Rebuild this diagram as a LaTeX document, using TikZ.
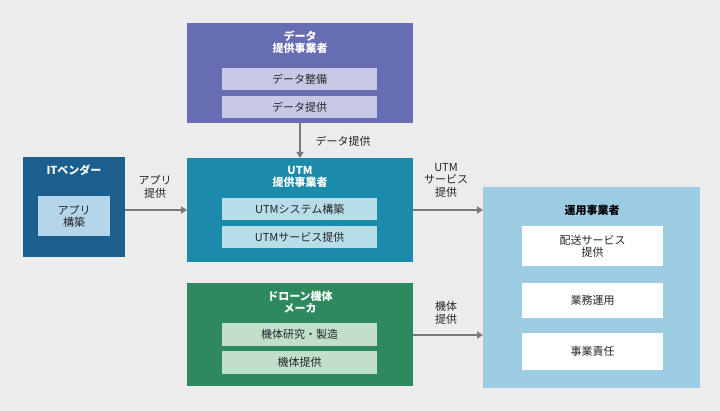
\documentclass[tikz,border=0pt]{standalone}
\usepackage{fontspec}
\setmainfont{Noto Sans CJK JP}
\usetikzlibrary{arrows.meta}
\definecolor{bg}{HTML}{ECECEC}
\definecolor{dpc}{HTML}{676DB3}
\definecolor{dpl}{HTML}{C6C8E6}
\definecolor{utc}{HTML}{1A8BAB}
\definecolor{utl}{HTML}{B6DDE8}
\definecolor{itc}{HTML}{1B5F8E}
\definecolor{itl}{HTML}{B5D6EA}
\definecolor{drc}{HTML}{2E8A5E}
\definecolor{drl}{HTML}{C0E0CC}
\definecolor{opc}{HTML}{9DCDE3}
\definecolor{arr}{HTML}{7A7A7A}
\begin{document}
\begin{tikzpicture}[x=1pt,y=-1pt,
 box/.style={draw=none,anchor=north west,inner sep=0},
 ttl/.style={text=white,font=\bfseries\fontsize{11}{12}\selectfont,align=center},
 lab/.style={font=\fontsize{11}{12.5}\selectfont,align=center,text=black!85},
 arw/.style={draw=arr,line width=1.6pt,-{Triangle[length=6pt,width=7pt]}}]
\fill[bg] (0,0) rectangle (720,411);
\useasboundingbox (0,0) rectangle (720,411);
% data provider
\node[box,fill=dpc,minimum width=226,minimum height=100] (dp) at (187,23) {};
\node[ttl] at (300,42) {データ\\提供事業者};
\node[box,fill=dpl,minimum width=155,minimum height=22] (dp1) at (222,68) {};
\node[lab] at (dp1.center) {データ整備};
\node[box,fill=dpl,minimum width=155,minimum height=22] (dp2) at (222,96) {};
\node[lab] at (dp2.center) {データ提供};
% UTM
\node[box,fill=utc,minimum width=226,minimum height=104] (ut) at (187,158) {};
\node[ttl] at (300,177) {UTM\\提供事業者};
\node[box,fill=utl,minimum width=155,minimum height=22] (ut1) at (222,198) {};
\node[lab] at (ut1.center) {UTMシステム構築};
\node[box,fill=utl,minimum width=155,minimum height=22] (ut2) at (222,226) {};
\node[lab] at (ut2.center) {UTMサービス提供};
% IT vendor
\node[box,fill=itc,minimum width=102,minimum height=100] (it) at (23,157) {};
\node[ttl] at (74,170) {ITベンダー};
\node[box,fill=itl,minimum width=72,minimum height=40] (it1) at (38,196) {};
\node[lab] at (it1.center) {アプリ\\構築};
% drone
\node[box,fill=drc,minimum width=226,minimum height=103] (dr) at (187,283) {};
\node[ttl] at (300,302) {ドローン機体\\メーカ};
\node[box,fill=drl,minimum width=155,minimum height=23] (dr1) at (222,323) {};
\node[lab] at (dr1.center) {機体研究・製造};
\node[box,fill=drl,minimum width=155,minimum height=23] (dr2) at (222,351) {};
\node[lab] at (dr2.center) {機体提供};
% operator
\node[box,fill=opc,minimum width=217,minimum height=201] (op) at (483,187) {};
\node[text=black,font=\bfseries\fontsize{11}{12}\selectfont] at (592,210) {運用事業者};
\node[box,fill=white,minimum width=141,minimum height=40] (op1) at (522,226) {};
\node[lab] at (op1.center) {配送サービス\\提供};
\node[box,fill=white,minimum width=141,minimum height=35] (op2) at (522,283) {};
\node[lab] at (op2.center) {業務運用};
\node[box,fill=white,minimum width=141,minimum height=37] (op3) at (522,333) {};
\node[lab] at (op3.center) {事業責任};
% arrows
\coordinate (a1) at (300,123); \coordinate (a2) at (300,158);
\draw[arw] (a1) -- (a2);
\node[lab] at (343,141) {データ提供};
\coordinate (b1) at (125,210); \coordinate (b2) at (187,210);
\draw[arw] (b1) -- (b2);
\node[lab] at (155,187) {アプリ\\提供};
\coordinate (c1) at (413,210); \coordinate (c2) at (483,210);
\draw[arw] (c1) -- (c2);
\node[lab] at (446,180) {UTM\\サービス\\提供};
\coordinate (d1) at (413,335); \coordinate (d2) at (483,335);
\draw[arw] (d1) -- (d2);
\node[lab] at (446,313) {機体\\提供};
\end{tikzpicture}
\end{document}
